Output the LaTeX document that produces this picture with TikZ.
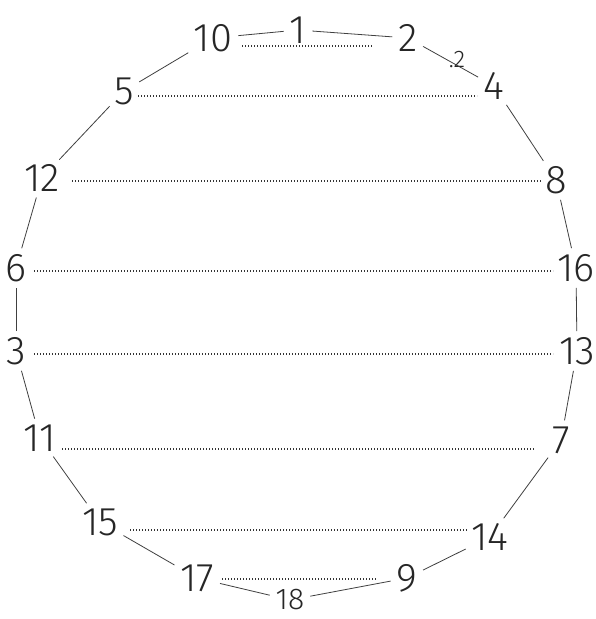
\documentclass[tikz,border=0pt]{standalone}
\usepackage{fontspec}
\setmainfont{Fira Sans}[UprightFont={* Light}]
\begin{document}
\begin{tikzpicture}[x=1pt,y=-1pt,
  num/.style={font=\fontsize{40}{40}\selectfont, inner sep=1pt, text=black!85},
  smallnum/.style={font=\fontsize{30}{30}\selectfont, inner sep=1pt, text=black!85},
  small/.style={font=\fontsize{24}{24}\selectfont, inner sep=0pt, text=black!85},
  edge/.style={draw=black!75, line width=0.8pt, shorten >=5pt, shorten <=5pt},
  dots/.style={draw=black!80, line width=1.1pt, dash pattern=on 1pt off 2pt}]
\useasboundingbox[fill=white] (0,0) rectangle (596,619);
% number nodes
\node[num] (n10) at (213,38) {10};
\node[num] (n1)  at (298,30) {1};
\node[num] (n2)  at (408,38) {2};
\node[num] (n4)  at (494,86) {4};
\node[num] (n5)  at (124,91) {5};
\node[num] (n8)  at (556,180) {8};
\node[num] (n12) at (42,178) {12};
\node[num] (n6)  at (16,268) {6};
\node[num] (n16) at (576,268) {16};
\node[num] (n3)  at (16,351) {3};
\node[num] (n13) at (577,351) {13};
\node[num] (n11) at (40,438) {11};
\node[num] (n7)  at (561,440) {7};
\node[num] (n15) at (100,522) {15};
\node[num] (n14) at (490,537) {14};
\node[num] (n17) at (197,578) {17};
\node[num] (n9)  at (407,578) {9};
\node[smallnum] (n18) at (290,600) {18};
\node[small] (s2) at (457,60) {.2};
% polygon edges
\draw[edge] (n10) -- (n1);
\draw[edge] (n1) -- (n2);
\draw[edge] (n2) -- (n4);
\draw[edge] (n4) -- (n8);
\draw[edge] (n8) -- (n16);
\draw[edge] (n16) -- (n13);
\draw[edge] (n13) -- (n7);
\draw[edge] (n7) -- (n14);
\draw[edge] (n14) -- (n9);
\draw[edge] (n9) -- (n18);
\draw[edge] (n18) -- (n17);
\draw[edge] (n17) -- (n15);
\draw[edge] (n15) -- (n11);
\draw[edge] (n11) -- (n3);
\draw[edge] (n3) -- (n6);
\draw[edge] (n6) -- (n12);
\draw[edge] (n12) -- (n5);
\draw[edge] (n5) -- (n10);
% dotted chords
\coordinate (a1) at (242,46); \coordinate (b1) at (372,46);
\coordinate (a2) at (138,96); \coordinate (b2) at (477,96);
\coordinate (a3) at (72,181); \coordinate (b3) at (542,181);
\coordinate (a4) at (34,271); \coordinate (b4) at (553,271);
\coordinate (a5) at (34,354); \coordinate (b5) at (553,354);
\coordinate (a6) at (62,449); \coordinate (b6) at (535,449);
\coordinate (a7) at (130,530); \coordinate (b7) at (467,530);
\coordinate (a8) at (222,579); \coordinate (b8) at (376,579);
\foreach \i in {1,...,8} {\draw[dots] (a\i) -- (b\i);}
\end{tikzpicture}
\end{document}
